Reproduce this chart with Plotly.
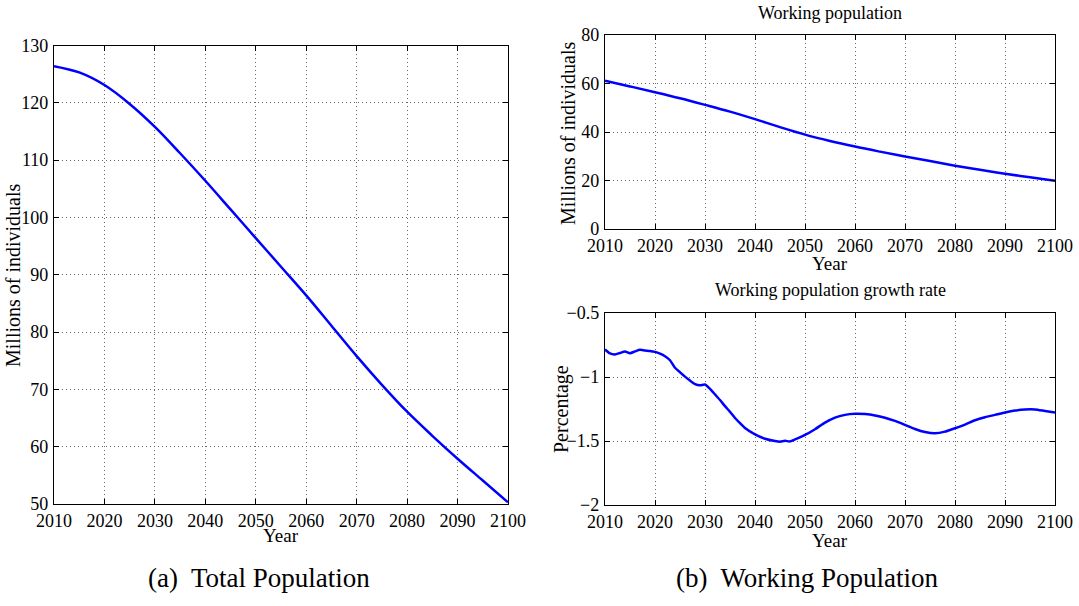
import plotly.graph_objects as go

# ---------------- data ----------------
years5 = [2010, 2015, 2020, 2025, 2030, 2035, 2040, 2045, 2050, 2055,
          2060, 2065, 2070, 2075, 2080, 2085, 2090, 2095, 2100]
total_pop = [126.4, 125.3, 123.1, 119.8, 115.8, 111.2, 106.4, 101.4, 96.4, 91.4,
             86.4, 81.1, 75.8, 70.8, 66.1, 61.9, 57.9, 54.1, 50.3]
working_pop = [61.1, 58.8, 56.4, 53.9, 51.2, 48.4, 45.3, 42.0, 38.9, 36.3,
               34.0, 31.9, 29.9, 28.0, 26.1, 24.4, 22.8, 21.3, 19.9]

growth_years = [2010, 2011, 2012, 2013, 2014, 2015, 2016, 2017, 2018, 2019,
                2020, 2021, 2022, 2023, 2024, 2025, 2026, 2027, 2028, 2029,
                2030, 2031, 2032, 2033, 2034, 2035, 2036, 2037, 2038, 2040,
                2042, 2044, 2045, 2046, 2047, 2048, 2050, 2052, 2054, 2056,
                2058, 2060, 2062, 2064, 2066, 2068, 2070, 2072, 2074, 2076,
                2078, 2080, 2082, 2084, 2086, 2088, 2090, 2092, 2094, 2096,
                2098, 2100]
growth_rate = [-0.785, -0.816, -0.824, -0.812, -0.801, -0.814, -0.800, -0.788, -0.793, -0.796,
               -0.804, -0.818, -0.838, -0.869, -0.928, -0.963, -0.997, -1.028, -1.055, -1.065,
               -1.059, -1.093, -1.136, -1.180, -1.228, -1.272, -1.320, -1.360, -1.398, -1.448,
               -1.482, -1.500, -1.505, -1.499, -1.503, -1.488, -1.453, -1.408, -1.356, -1.317,
               -1.296, -1.288, -1.290, -1.300, -1.318, -1.343, -1.374, -1.406, -1.430, -1.440,
               -1.427, -1.400, -1.372, -1.338, -1.314, -1.296, -1.277, -1.262, -1.254, -1.254,
               -1.266, -1.277]

x_ticks = list(range(2010, 2101, 10))
left_yticks = [50, 60, 70, 80, 90, 100, 110, 120, 130]
top_yticks = [0, 20, 40, 60, 80]
bot_yticks = [-2, -1.5, -1, -0.5]

# ---------------- layout helpers ----------------
W, H = 1079, 606
FONT = "Liberation Serif, Times New Roman, serif"
BLUE = "#0000FF"
GRID = dict(showgrid=True, gridcolor="#666666", griddash="1px,3px", gridwidth=1)


def px(x):
    return x / W


def py(y):
    return 1 - y / H


def xaxis_style(domain, anchor):
    return dict(domain=domain, anchor=anchor, range=[2010, 2100],
                tickvals=x_ticks, ticks="inside", ticklen=5, tickcolor="black",
                showline=True, linecolor="black", linewidth=1.3, mirror="ticks",
                zeroline=False, automargin=False, ticklabelstandoff=0,
                tickfont=dict(family=FONT, size=18, color="black"), **GRID)


def yaxis_style(domain, anchor, rng, vals):
    return dict(domain=domain, anchor=anchor, range=rng, tickvals=vals,
                ticks="inside", ticklen=5, tickcolor="black",
                showline=True, linecolor="black", linewidth=1.3, mirror="ticks",
                zeroline=False, automargin=False, ticklabelstandoff=1,
                tickfont=dict(family=FONT, size=18, color="black"), **GRID)


fig = go.Figure()
fig.add_trace(go.Scatter(x=years5, y=total_pop, mode="lines", line=dict(color=BLUE, width=2.5, shape="spline"),
                         xaxis="x", yaxis="y", showlegend=False))
fig.add_trace(go.Scatter(x=years5, y=working_pop, mode="lines", line=dict(color=BLUE, width=2.5, shape="spline"),
                         xaxis="x2", yaxis="y2", showlegend=False))
fig.add_trace(go.Scatter(x=growth_years, y=growth_rate, mode="lines",
                         line=dict(color=BLUE, width=2.5, shape="spline", smoothing=0.6),
                         xaxis="x3", yaxis="y3", showlegend=False))

L_X = [px(54), px(508)]
R_X = [px(605), px(1055)]
L_Y = [py(504), py(45.5)]
RT_Y = [py(229), py(35)]
RB_Y = [py(505), py(313)]

ann = []


def text(x, y, s, size, angle=0):
    ann.append(dict(x=px(x), y=py(y), xref="paper", yref="paper", text=s, showarrow=False,
                    textangle=angle, xanchor="center", yanchor="middle",
                    font=dict(family=FONT, size=size, color="black")))


text(281, 535, "Year", 19)
text(830, 263, "Year", 19)
text(830, 540, "Year", 19)
text(13, 275, "Millions of individuals", 20, -90)
text(568, 133, "Millions of individuals", 20, -90)
text(561, 409, "Percentage", 20, -90)
text(830, 13, "Working population", 18)
text(830, 290, "Working population growth rate", 18)
text(259, 578, "(a)  Total Population", 27)
text(807, 578, "(b)  Working Population", 27)

fig.update_layout(
    width=W, height=H, margin=dict(l=0, r=0, t=0, b=0, autoexpand=False),
    paper_bgcolor="white", plot_bgcolor="white",
    xaxis=xaxis_style(L_X, "y"), yaxis=yaxis_style(L_Y, "x", [50, 130], left_yticks),
    xaxis2=xaxis_style(R_X, "y2"), yaxis2=yaxis_style(RT_Y, "x2", [0, 80], top_yticks),
    xaxis3=xaxis_style(R_X, "y3"), yaxis3=yaxis_style(RB_Y, "x3", [-2, -0.5], bot_yticks),
    annotations=ann,
)

fig.write_html("out.html")
